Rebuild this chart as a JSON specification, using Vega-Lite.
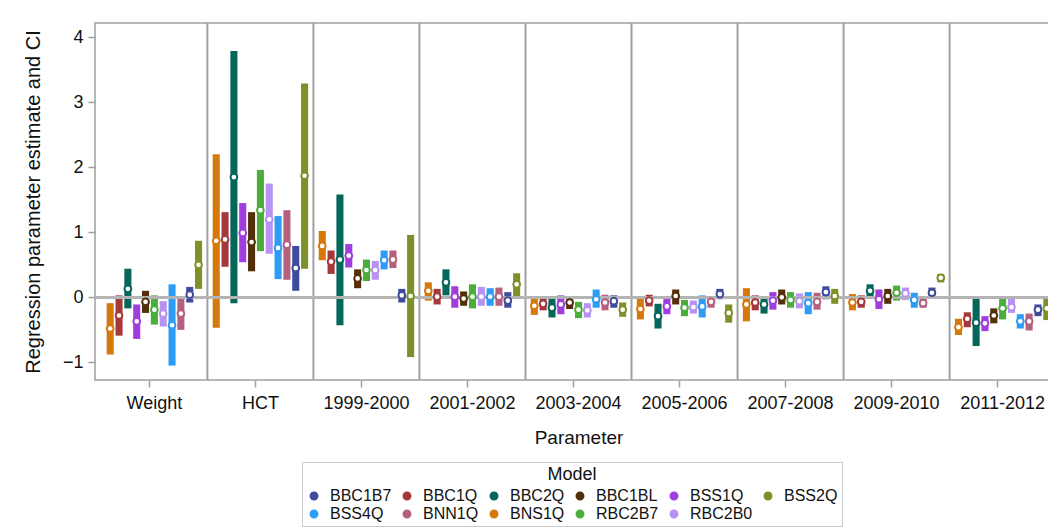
{
  "$schema": "https://vega.github.io/schema/vega-lite/v6.json",
  "autosize": {"type": "none"},
  "padding": {"left": 95, "top": 23, "right": 0, "bottom": 151},
  "width": 967,
  "height": 357,
  "background": "white",
  "datasets": {
    "ci": [
    {"p":"Weight","m":"BNS1Q","lo":-0.88,"hi":-0.09,"est":-0.48},
    {"p":"Weight","m":"BBC1Q","lo":-0.59,"hi":0.03,"est":-0.28},
    {"p":"Weight","m":"BBC2Q","lo":-0.17,"hi":0.44,"est":0.13},
    {"p":"Weight","m":"BSS1Q","lo":-0.64,"hi":-0.11,"est":-0.37},
    {"p":"Weight","m":"BBC1BL","lo":-0.24,"hi":0.10,"est":-0.07},
    {"p":"Weight","m":"RBC2B7","lo":-0.42,"hi":0.03,"est":-0.19},
    {"p":"Weight","m":"RBC2B0","lo":-0.45,"hi":-0.06,"est":-0.25},
    {"p":"Weight","m":"BSS4Q","lo":-1.05,"hi":0.20,"est":-0.43},
    {"p":"Weight","m":"BNN1Q","lo":-0.50,"hi":0.00,"est":-0.25},
    {"p":"Weight","m":"BBC1B7","lo":-0.08,"hi":0.16,"est":0.04},
    {"p":"Weight","m":"BSS2Q","lo":0.13,"hi":0.87,"est":0.50},
    {"p":"HCT","m":"BNS1Q","lo":-0.47,"hi":2.20,"est":0.87},
    {"p":"HCT","m":"BBC1Q","lo":0.47,"hi":1.31,"est":0.89},
    {"p":"HCT","m":"BBC2Q","lo":-0.09,"hi":3.79,"est":1.85},
    {"p":"HCT","m":"BSS1Q","lo":0.54,"hi":1.45,"est":0.99},
    {"p":"HCT","m":"BBC1BL","lo":0.40,"hi":1.31,"est":0.85},
    {"p":"HCT","m":"RBC2B7","lo":0.71,"hi":1.96,"est":1.34},
    {"p":"HCT","m":"RBC2B0","lo":0.67,"hi":1.75,"est":1.20},
    {"p":"HCT","m":"BSS4Q","lo":0.28,"hi":1.25,"est":0.76},
    {"p":"HCT","m":"BNN1Q","lo":0.27,"hi":1.34,"est":0.81},
    {"p":"HCT","m":"BBC1B7","lo":0.10,"hi":0.79,"est":0.45},
    {"p":"HCT","m":"BSS2Q","lo":0.44,"hi":3.29,"est":1.87},
    {"p":"1999-2000","m":"BNS1Q","lo":0.57,"hi":1.02,"est":0.79},
    {"p":"1999-2000","m":"BBC1Q","lo":0.36,"hi":0.72,"est":0.55},
    {"p":"1999-2000","m":"BBC2Q","lo":-0.43,"hi":1.58,"est":0.58},
    {"p":"1999-2000","m":"BSS1Q","lo":0.46,"hi":0.82,"est":0.64},
    {"p":"1999-2000","m":"BBC1BL","lo":0.14,"hi":0.43,"est":0.29},
    {"p":"1999-2000","m":"RBC2B7","lo":0.25,"hi":0.58,"est":0.42},
    {"p":"1999-2000","m":"RBC2B0","lo":0.27,"hi":0.56,"est":0.42},
    {"p":"1999-2000","m":"BSS4Q","lo":0.43,"hi":0.72,"est":0.57},
    {"p":"1999-2000","m":"BNN1Q","lo":0.45,"hi":0.72,"est":0.58},
    {"p":"1999-2000","m":"BBC1B7","lo":-0.08,"hi":0.13,"est":0.03},
    {"p":"1999-2000","m":"BSS2Q","lo":-0.92,"hi":0.96,"est":0.02},
    {"p":"2001-2002","m":"BNS1Q","lo":-0.05,"hi":0.23,"est":0.10},
    {"p":"2001-2002","m":"BBC1Q","lo":-0.11,"hi":0.13,"est":0.01},
    {"p":"2001-2002","m":"BBC2Q","lo":0.03,"hi":0.43,"est":0.23},
    {"p":"2001-2002","m":"BSS1Q","lo":-0.16,"hi":0.17,"est":0.01},
    {"p":"2001-2002","m":"BBC1BL","lo":-0.13,"hi":0.09,"est":-0.02},
    {"p":"2001-2002","m":"RBC2B7","lo":-0.17,"hi":0.20,"est":0.01},
    {"p":"2001-2002","m":"RBC2B0","lo":-0.13,"hi":0.16,"est":0.01},
    {"p":"2001-2002","m":"BSS4Q","lo":-0.13,"hi":0.14,"est":0.01},
    {"p":"2001-2002","m":"BNN1Q","lo":-0.13,"hi":0.15,"est":0.01},
    {"p":"2001-2002","m":"BBC1B7","lo":-0.16,"hi":0.08,"est":-0.05},
    {"p":"2001-2002","m":"BSS2Q","lo":0.02,"hi":0.37,"est":0.20},
    {"p":"2003-2004","m":"BNS1Q","lo":-0.27,"hi":0.00,"est":-0.13},
    {"p":"2003-2004","m":"BBC1Q","lo":-0.20,"hi":0.00,"est":-0.10},
    {"p":"2003-2004","m":"BBC2Q","lo":-0.31,"hi":-0.02,"est":-0.16},
    {"p":"2003-2004","m":"BSS1Q","lo":-0.26,"hi":0.03,"est":-0.11},
    {"p":"2003-2004","m":"BBC1BL","lo":-0.18,"hi":0.02,"est":-0.08},
    {"p":"2003-2004","m":"RBC2B7","lo":-0.32,"hi":-0.07,"est":-0.19},
    {"p":"2003-2004","m":"RBC2B0","lo":-0.31,"hi":-0.09,"est":-0.20},
    {"p":"2003-2004","m":"BSS4Q","lo":-0.16,"hi":0.12,"est":-0.03},
    {"p":"2003-2004","m":"BNN1Q","lo":-0.20,"hi":0.04,"est":-0.08},
    {"p":"2003-2004","m":"BBC1B7","lo":-0.16,"hi":0.03,"est":-0.06},
    {"p":"2003-2004","m":"BSS2Q","lo":-0.30,"hi":-0.08,"est":-0.19},
    {"p":"2005-2006","m":"BNS1Q","lo":-0.34,"hi":-0.02,"est":-0.18},
    {"p":"2005-2006","m":"BBC1Q","lo":-0.14,"hi":0.04,"est":-0.05},
    {"p":"2005-2006","m":"BBC2Q","lo":-0.48,"hi":-0.10,"est":-0.29},
    {"p":"2005-2006","m":"BSS1Q","lo":-0.26,"hi":-0.02,"est":-0.14},
    {"p":"2005-2006","m":"BBC1BL","lo":-0.11,"hi":0.12,"est":0.02},
    {"p":"2005-2006","m":"RBC2B7","lo":-0.29,"hi":-0.04,"est":-0.16},
    {"p":"2005-2006","m":"RBC2B0","lo":-0.25,"hi":-0.05,"est":-0.15},
    {"p":"2005-2006","m":"BSS4Q","lo":-0.31,"hi":0.03,"est":-0.14},
    {"p":"2005-2006","m":"BNN1Q","lo":-0.16,"hi":0.02,"est":-0.07},
    {"p":"2005-2006","m":"BBC1B7","lo":-0.03,"hi":0.13,"est":0.05},
    {"p":"2005-2006","m":"BSS2Q","lo":-0.39,"hi":-0.11,"est":-0.24},
    {"p":"2007-2008","m":"BNS1Q","lo":-0.37,"hi":0.14,"est":-0.11},
    {"p":"2007-2008","m":"BBC1Q","lo":-0.20,"hi":0.03,"est":-0.08},
    {"p":"2007-2008","m":"BBC2Q","lo":-0.25,"hi":0.02,"est":-0.11},
    {"p":"2007-2008","m":"BSS1Q","lo":-0.19,"hi":0.08,"est":-0.05},
    {"p":"2007-2008","m":"BBC1BL","lo":-0.11,"hi":0.12,"est":0.00},
    {"p":"2007-2008","m":"RBC2B7","lo":-0.16,"hi":0.08,"est":-0.04},
    {"p":"2007-2008","m":"RBC2B0","lo":-0.17,"hi":0.06,"est":-0.06},
    {"p":"2007-2008","m":"BSS4Q","lo":-0.26,"hi":0.08,"est":-0.09},
    {"p":"2007-2008","m":"BNN1Q","lo":-0.19,"hi":0.07,"est":-0.07},
    {"p":"2007-2008","m":"BBC1B7","lo":-0.03,"hi":0.17,"est":0.08},
    {"p":"2007-2008","m":"BSS2Q","lo":-0.10,"hi":0.13,"est":0.02},
    {"p":"2009-2010","m":"BNS1Q","lo":-0.20,"hi":0.05,"est":-0.08},
    {"p":"2009-2010","m":"BBC1Q","lo":-0.16,"hi":0.03,"est":-0.07},
    {"p":"2009-2010","m":"BBC2Q","lo":0.00,"hi":0.20,"est":0.10},
    {"p":"2009-2010","m":"BSS1Q","lo":-0.18,"hi":0.12,"est":-0.03},
    {"p":"2009-2010","m":"BBC1BL","lo":-0.10,"hi":0.13,"est":0.02},
    {"p":"2009-2010","m":"RBC2B7","lo":-0.05,"hi":0.18,"est":0.07},
    {"p":"2009-2010","m":"RBC2B0","lo":-0.04,"hi":0.15,"est":0.06},
    {"p":"2009-2010","m":"BSS4Q","lo":-0.16,"hi":0.07,"est":-0.04},
    {"p":"2009-2010","m":"BNN1Q","lo":-0.16,"hi":-0.01,"est":-0.09},
    {"p":"2009-2010","m":"BBC1B7","lo":-0.01,"hi":0.15,"est":0.07},
    {"p":"2009-2010","m":"BSS2Q","lo":0.23,"hi":0.36,"est":0.30},
    {"p":"2011-2012","m":"BNS1Q","lo":-0.58,"hi":-0.33,"est":-0.46},
    {"p":"2011-2012","m":"BBC1Q","lo":-0.46,"hi":-0.23,"est":-0.33},
    {"p":"2011-2012","m":"BBC2Q","lo":-0.75,"hi":-0.02,"est":-0.39},
    {"p":"2011-2012","m":"BSS1Q","lo":-0.52,"hi":-0.29,"est":-0.40},
    {"p":"2011-2012","m":"BBC1BL","lo":-0.40,"hi":-0.17,"est":-0.28},
    {"p":"2011-2012","m":"RBC2B7","lo":-0.34,"hi":0.00,"est":-0.17},
    {"p":"2011-2012","m":"RBC2B0","lo":-0.24,"hi":-0.01,"est":-0.15},
    {"p":"2011-2012","m":"BSS4Q","lo":-0.48,"hi":-0.26,"est":-0.37},
    {"p":"2011-2012","m":"BNN1Q","lo":-0.51,"hi":-0.25,"est":-0.37},
    {"p":"2011-2012","m":"BBC1B7","lo":-0.29,"hi":-0.11,"est":-0.19},
    {"p":"2011-2012","m":"BSS2Q","lo":-0.35,"hi":0.00,"est":-0.17}
    ],
    "seps": [{"p":"HCT"},{"p":"1999-2000"},{"p":"2001-2002"},{"p":"2003-2004"},{"p":"2005-2006"},{"p":"2007-2008"},{"p":"2009-2010"},{"p":"2011-2012"}]
  },
  "layer": [
    {
      "data": {"name": "seps"},
      "mark": {"type": "rule", "color": "#a0a0a0", "strokeWidth": 2},
      "encoding": {
        "x": {"field": "p", "type": "nominal", "bandPosition": 0,
          "scale": {"domain": ["Weight","HCT","1999-2000","2001-2002","2003-2004","2005-2006","2007-2008","2009-2010","2011-2012"], "paddingInner": 0, "paddingOuter": 0.06},
          "axis": {"title": "Parameter", "labelAngle": 0, "bandPosition": 0.45, "domain": false, "grid": false, "ticks": true, "tickSize": 7, "tickColor": "#a0a0a0", "tickWidth": 1.5, "labelFontSize": 18, "labelPadding": 7, "labelColor": "#111", "titleFontSize": 19, "titleFontWeight": "normal", "titlePadding": 16, "titleColor": "#111"}}
      }
    },
    {
      "data": {"name": "ci"},
      "mark": {"type": "bar"},
      "encoding": {
        "x": {"field": "p", "type": "nominal",
          "scale": {"domain": ["Weight","HCT","1999-2000","2001-2002","2003-2004","2005-2006","2007-2008","2009-2010","2011-2012"], "paddingInner": 0, "paddingOuter": 0.06},
          "axis": {"title": "Parameter", "labelAngle": 0, "bandPosition": 0.45, "domain": false, "grid": false, "ticks": true, "tickSize": 7, "tickColor": "#a0a0a0", "tickWidth": 1.5, "labelFontSize": 18, "labelPadding": 7, "labelColor": "#111", "titleFontSize": 19, "titleFontWeight": "normal", "titlePadding": 16, "titleColor": "#111"}},
        "xOffset": {"field": "m", "type": "nominal", "scale": {"domain": ["BNS1Q","BBC1Q","BBC2Q","BSS1Q","BBC1BL","RBC2B7","RBC2B0","BSS4Q","BNN1Q","BBC1B7","BSS2Q"], "paddingInner": 0.2, "paddingOuter": 0.6}},
        "y": {"field": "lo", "type": "quantitative",
          "scale": {"domain": [-1.272, 4.22], "nice": false, "zero": false},
          "axis": {"title": "Regression parameter estimate and CI", "values": [-1,0,1,2,3,4], "domain": false, "grid": false, "tickSize": 7, "tickColor": "#a0a0a0", "tickWidth": 1.5, "labelFontSize": 18, "labelPadding": 5, "labelColor": "#111", "titleFontSize": 20, "titleFontWeight": "normal", "titlePadding": 19, "titleColor": "#111"}},
        "y2": {"field": "hi"},
        "color": {"field": "m", "type": "nominal",
          "scale": {"domain": ["BBC1B7","BBC1Q","BBC2Q","BBC1BL","BSS1Q","BSS2Q","BSS4Q","BNN1Q","BNS1Q","RBC2B7","RBC2B0"],
                    "range": ["#3f4b9b","#a5383a","#05665a","#54300a","#a03ddf","#7d9128","#2d9cf6","#b5607e","#d6780a","#4bae3b","#b792f2"]},
          "legend": {"title": "Model", "orient": "none", "legendX": 207, "legendY": 439, "direction": "horizontal", "columns": 6, "symbolType": "circle", "symbolSize": 55, "labelFontSize": 16, "labelOffset": 8, "labelColor": "#111", "columnPadding": 7, "rowPadding": 2, "titleFontSize": 18, "titleFontWeight": "normal", "titleColor": "#111", "titleAnchor": "middle", "titlePadding": 4, "padding": 4, "strokeColor": "#c8c8c8", "fillColor": "white"}
        }
      }
    },
    {
      "data": {"name": "ci"},
      "mark": {"type": "rule", "color": "#b4b4b4", "strokeWidth": 2},
      "encoding": {
        "y": {"datum": 0, "type": "quantitative",
          "scale": {"domain": [-1.272, 4.22], "nice": false, "zero": false},
          "axis": {"title": "Regression parameter estimate and CI", "values": [-1,0,1,2,3,4], "domain": false, "grid": false, "tickSize": 7, "tickColor": "#a0a0a0", "tickWidth": 1.5, "labelFontSize": 18, "labelPadding": 5, "labelColor": "#111", "titleFontSize": 20, "titleFontWeight": "normal", "titlePadding": 19, "titleColor": "#111"}}
      }
    },
    {
      "data": {"name": "ci"},
      "mark": {"type": "point", "filled": true, "fill": "white", "opacity": 1, "size": 45, "strokeWidth": 2, "shape": "circle"},
      "encoding": {
        "x": {"field": "p", "type": "nominal",
          "scale": {"domain": ["Weight","HCT","1999-2000","2001-2002","2003-2004","2005-2006","2007-2008","2009-2010","2011-2012"], "paddingInner": 0, "paddingOuter": 0.06},
          "axis": {"title": "Parameter", "labelAngle": 0, "bandPosition": 0.45, "domain": false, "grid": false, "ticks": true, "tickSize": 7, "tickColor": "#a0a0a0", "tickWidth": 1.5, "labelFontSize": 18, "labelPadding": 7, "labelColor": "#111", "titleFontSize": 19, "titleFontWeight": "normal", "titlePadding": 16, "titleColor": "#111"}},
        "xOffset": {"field": "m", "type": "nominal", "scale": {"domain": ["BNS1Q","BBC1Q","BBC2Q","BSS1Q","BBC1BL","RBC2B7","RBC2B0","BSS4Q","BNN1Q","BBC1B7","BSS2Q"], "paddingInner": 0.2, "paddingOuter": 0.6}},
        "y": {"field": "est", "type": "quantitative", "scale": {"domain": [-1.272, 4.22], "nice": false, "zero": false},
          "axis": {"title": "Regression parameter estimate and CI", "values": [-1,0,1,2,3,4], "domain": false, "grid": false, "tickSize": 7, "tickColor": "#a0a0a0", "tickWidth": 1.5, "labelFontSize": 18, "labelPadding": 5, "labelColor": "#111", "titleFontSize": 20, "titleFontWeight": "normal", "titlePadding": 19, "titleColor": "#111"}},
        "stroke": {"field": "m", "type": "nominal", "legend": null,
          "scale": {"domain": ["BBC1B7","BBC1Q","BBC2Q","BBC1BL","BSS1Q","BSS2Q","BSS4Q","BNN1Q","BNS1Q","RBC2B7","RBC2B0"],
                    "range": ["#3f4b9b","#a5383a","#05665a","#54300a","#a03ddf","#7d9128","#2d9cf6","#b5607e","#d6780a","#4bae3b","#b792f2"]}}
      }
    }
  ],
  "config": {
    "font": "Liberation Sans",
    "view": {"stroke": "#a0a0a0", "strokeWidth": 1.5}
  }
}
